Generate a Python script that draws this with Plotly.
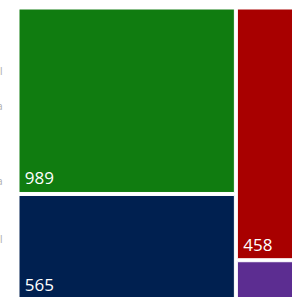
import plotly.graph_objects as go

labels = ["A", "B", "C", "D"]
parents = ["", "", "", ""]
values = [989, 565, 458, 73]
colors = ["#107C10", "#002050", "#A80000", "#5C2D91"]
value_labels = ["%{value}", "%{value}", "%{value}", " "]

# clipped labels of a neighbouring visual, only slivers visible at the left edge
edge_texts = ["l", "a", "a", "l"]
edge_y = [0.786, 0.666, 0.407, 0.207]

fig = go.Figure(go.Treemap(
    labels=labels,
    parents=parents,
    values=values,
    marker=dict(colors=colors, line=dict(color="white", width=1),
                pad=dict(t=0, l=0, r=0, b=0)),
    texttemplate=["\u2009" + t for t in value_labels],
    textposition="bottom left",
    textfont=dict(family="Open Sans", size=17, color="white"),
    tiling=dict(pad=3),
    pathbar=dict(visible=False),
    sort=True,
    hoverinfo="skip",
))

for t, y in zip(edge_texts, edge_y):
    fig.add_annotation(
        text=t, x=-0.05, y=y, xref="paper", yref="paper",
        xanchor="right", yanchor="middle", showarrow=False,
        font=dict(family="Open Sans", size=10, color="#aaaaaa"),
    )

fig.update_layout(
    width=309, height=299,
    margin=dict(l=19, r=0, t=9, b=0),
    paper_bgcolor="white",
    showlegend=False,
)

fig.write_html(
    "out.html",
    config={"displayModeBar": False},
    post_script=(
        "document.body.style.margin='0';"
        "document.body.style.overflow='hidden';"
        "document.documentElement.style.overflow='hidden';"
    ),
)
